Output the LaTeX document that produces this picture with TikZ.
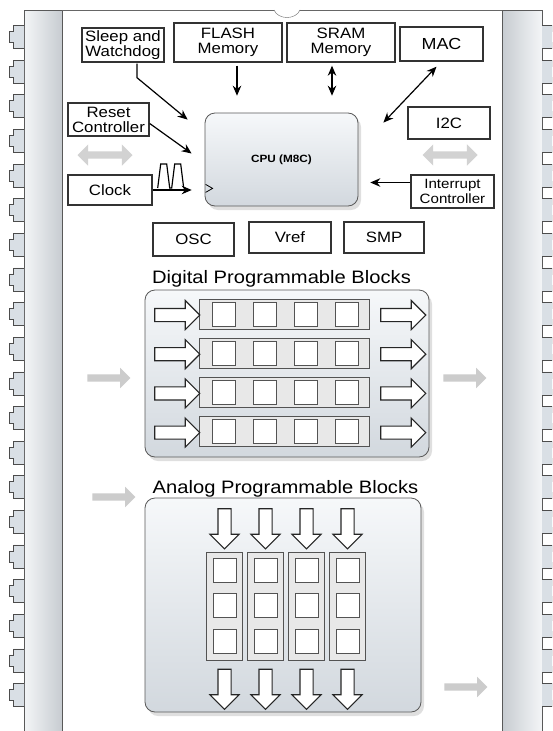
\documentclass[tikz,border=0pt]{standalone}
\usepackage{fontspec}
\setmainfont{Liberation Sans}[FakeStretch=1.12]
\usepackage{tikz}
\usetikzlibrary{arrows,arrows.meta}
\usetikzlibrary{shapes,positioning,calc,shadows}
\definecolor{boxline}{HTML}{333333}
\definecolor{strip}{HTML}{D9DFE5}
\definecolor{panelA}{HTML}{F6F8FA}
\definecolor{panelB}{HTML}{D2D8DE}

\begin{document}
\begin{tikzpicture}[x=1pt,y=-1pt,
		blk/.style={draw=boxline, line width=1.4pt, fill=white, align=center, inner sep=0pt, font=\fontsize{15}{15}\selectfont},
		panel/.style={draw=gray!70!black, line width=0.8pt, rounded corners=10pt, top color=panelA, bottom color=panelB, drop shadow={opacity=.25, shadow xshift=3pt, shadow yshift=-4pt}},
		link/.style={-{Stealth[length=10pt,width=8.5pt]}, line width=1.2pt},
		both/.style={{Stealth[length=10pt,width=8.5pt]}-{Stealth[length=10pt,width=8.5pt]}, line width=1.2pt},
		ghost/.style={single arrow, fill=gray!40, inner sep=3.5pt, single arrow head extend=6.5pt, minimum height=43pt},
		ghosttwo/.style={double arrow, fill=gray!35, inner sep=3.5pt, double arrow head extend=7pt, minimum height=55pt},
		hollow/.style={single arrow, draw=black!85, line width=1.1pt, fill=white, inner sep=6pt, single arrow head extend=8pt, minimum height=45pt},
		cell/.style={draw=gray!65!black, line width=1pt, fill=white, minimum width=23pt, minimum height=24pt, inner sep=0pt},
		lane/.style={draw=gray!65!black, line width=1pt, fill=gray!18, inner sep=0pt},
		pin/.style={draw=gray!60!black, fill=strip, line width=0.6pt}]
	\clip (0,0) rectangle (552,731);
	\fill[white] (0,0) rectangle (552,731);
	\draw[gray!70!black, left color=white!70!strip, right color=strip!80!gray] (24,10) rectangle (62,745);
	\draw[gray!70!black, left color=strip!80!gray, right color=white!70!strip] (502,10) rectangle (542,745);
	\draw[gray!80!black] (62,10) -- (502,10);
	\draw[gray!80!black, fill=white] (274,10) .. controls (278,20) and (296,20) .. (300,10);
	\foreach \i in {0,...,19} {
		\pgfmathsetmacro{\py}{25.5+34.63*\i}
		\draw[pin] (24,\py) -- (13.5,\py) -- (13.5,\py+6) -- (9,\py+6) -- (9,\py+17) -- (13.5,\py+17) -- (13.5,\py+23) -- (24,\py+23);
		\draw[pin] (542,\py) -- (552.5,\py) -- (552.5,\py+6) -- (557,\py+6) -- (557,\py+17) -- (552.5,\py+17) -- (552.5,\py+23) -- (542,\py+23);
	}

	\node[blk, minimum width=82pt, minimum height=34pt] (sleep) at (123,45) {Sleep and\\Watchdog};
	\node[blk, minimum width=108pt, minimum height=39pt] (flash) at (228,42.5) {FLASH\\Memory};
	\node[blk, minimum width=108pt, minimum height=39pt] (sram) at (341,42.5) {SRAM\\Memory};
	\node[blk, minimum width=83pt, minimum height=34pt, font=\fontsize{16}{16}\selectfont] (mac) at (441.5,44) {MAC};
	\node[blk, minimum width=81pt, minimum height=33pt] (reset) at (108.5,119.5) {Reset\\Controller};
	\node[blk, minimum width=84pt, minimum height=30pt] (clock) at (110,190) {Clock};
	\node[panel, minimum width=153pt, minimum height=93pt, font=\bfseries\fontsize{10.5}{12}\selectfont] (cpu) at (281.5,159.5) {CPU (M8C)};
	\node[blk, minimum width=82pt, minimum height=32pt] (i2c) at (449,123) {I2C};
	\node[blk, minimum width=83pt, minimum height=33pt, font=\fontsize{13.5}{15}\selectfont] (intr) at (452.5,191.5) {Interrupt\\Controller};
	\node[blk, minimum width=81pt, minimum height=33pt] (osc) at (193.5,239.5) {OSC};
	\node[blk, minimum width=82pt, minimum height=31pt] (vref) at (290,237.5) {Vref};
	\node[blk, minimum width=80pt, minimum height=31pt] (smp) at (384,237.5) {SMP};

	\draw[link] ($(flash.south)+(9,3)$) -- ++(0,30);
	\draw[both] ($(sram.south)+(-9,3)$) -- ++(0,30);
	\draw[both] ($(mac.south)+(-5,5)$) -- ($(cpu.north east)+(25,10)$);
	\draw[link] ($(sleep.south)+(14,1)$) -- ++(0,14) -- ($(cpu.north west)+(-17,7)$);
	\draw[link] ($(reset.east)+(0,4)$) -- ($(cpu.west)+(-13,-6)$);
	\draw[link] (clock.east) -- ++(39,0);
	\draw[link] ($(intr.west)+(0,-9)$) -- ++(-40,0);
	\draw[line width=1.2pt] ($(clock.east)+(5,-2)$) -- ++(3,-24) -- ++(6,0) -- ++(3,24) -- ++(2,0) -- ++(3,-24) -- ++(6,0) -- ++(3,24);
	\draw[line width=0.8pt] ($(cpu.south west)+(1,-22)$) -- ++(7,4) -- ++(-7,4);

	\node[ghosttwo] (lbus) at (105,155) {};
	\node[ghosttwo] (rbus) at (450,155) {};

	\node[font=\fontsize{18}{18}\selectfont, anchor=base] (dhead) at (281.5,283) {Digital Programmable Blocks};
	\node[panel, minimum width=284pt, minimum height=167pt] (dpb) at (287,373.5) {};
	\foreach \r in {0,...,3} {
		\pgfmathsetmacro{\ry}{314+39.2*\r}
		\node[lane, minimum width=170pt, minimum height=30pt] (row\r) at (284,\ry) {};
		\foreach \c in {0,...,3}
			\node[cell] (d\r\c) at (223.5+41.3*\c,\ry) {};
		\node[hollow] (din\r) at ($(row\r.west)+(-24.5,1)$) {};
		\node[hollow] (dout\r) at ($(row\r.east)+(30.5,1)$) {};
	}
	\node[ghost] (dleft) at (107,378) {};
	\node[ghost] (dright) at (463,378) {};

	\node[font=\fontsize{18}{18}\selectfont, anchor=base] (ahead) at (285.5,493) {Analog Programmable Blocks};
	\node[ghost] (aleft) at (112,497) {};
	\node[panel, minimum width=276pt, minimum height=214pt] (apb) at (283,605) {};
	\foreach \c in {0,...,3} {
		\pgfmathsetmacro{\cx}{224.5+41*\c}
		\node[lane, minimum width=36pt, minimum height=108pt] (col\c) at (\cx,606) {};
		\foreach \k in {0,1,2}
			\node[cell] (a\c\k) at (\cx,570+35.5*\k) {};
		\node[hollow, shape border rotate=270, minimum height=40pt] (ain\c) at ($(col\c.north)+(0,-26)$) {};
		\node[hollow, shape border rotate=270, minimum height=40pt] (aout\c) at ($(col\c.south)+(0,25.5)$) {};
	}
	\node[ghost] (aright) at (464,687) {};
\end{tikzpicture}
\end{document}
